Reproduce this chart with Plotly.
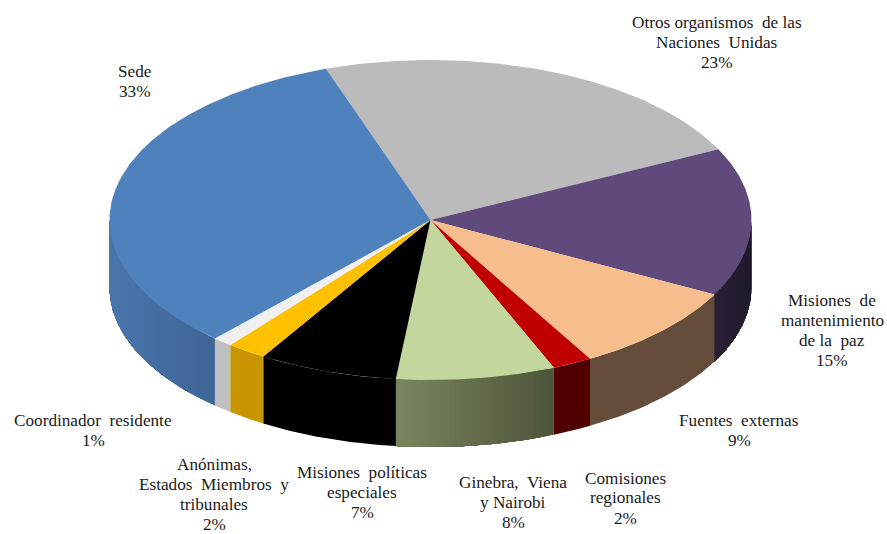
import numpy as np
import plotly.graph_objects as go

# Share of staff by location, clockwise from the first slice
categories = [
    "Otros organismos\u00a0 de las<br>Naciones\u00a0 Unidas",
    "Misiones\u00a0 de<br>mantenimiento<br>de la\u00a0 paz",
    "Fuentes\u00a0 externas",
    "Comisiones<br>regionales",
    "Ginebra,\u00a0 Viena<br>y Nairobi",
    "Misiones\u00a0 políticas<br>especiales",
    "Anónimas,<br>Estados\u00a0 Miembros\u00a0 y<br>tribunales",
    "Coordinador\u00a0 residente",
    "Sede",
]
shares = [23, 15, 9, 2, 8, 7, 2, 1, 33]

top_colors = ["#BBBBBB", "#604A7B", "#F6BD8D", "#C00000", "#C3D69B",
              "#000000", "#FFC000", "#F0F0F0", "#4F81BD"]
# Wall shading of each slice: colour at its left and right end
wall_colors = [
    ("#8C8C8C", "#8C8C8C"), ("#2A2036", "#211A2C"), ("#654D3B", "#654D3B"),
    ("#500000", "#500000"), ("#7A8560", "#4C5539"), ("#000000", "#000000"),
    ("#C89600", "#C89600"), ("#BFBFBF", "#BFBFBF"), ("#4A76AC", "#3E6596"),
]

# Pie geometry: one axis unit equals the horizontal radius
WIDTH, HEIGHT = 887, 534
CENTER_X, CENTER_Y, RADIUS_PX = 430.5, 220, 321
TILT = 160 / 321
DEPTH = 67 / 321
START_ANGLE = -19.0
LABEL_SIZE = 17.2
LINE_PITCH = 20

# Label block centres, in page pixels
label_pos = [(717, 42.5), (832, 330), (739, 430), (625, 498), (513, 502),
             (362, 492), (214, 494), (93, 430), (135, 81.5)]


def rgb(hex_color):
    return np.array([int(hex_color[i:i + 2], 16) for i in (1, 3, 5)], float)


def mix(a, b, t):
    c = rgb(a) * (1 - t) + rgb(b) * t
    return "rgb({:.0f},{:.0f},{:.0f})".format(*c)


def rim(theta_deg, drop=0.0):
    t = np.radians(theta_deg)
    return np.sin(t), np.cos(t) * TILT - drop


fig = go.Figure()


def polygon(x, y, color):
    fig.add_trace(go.Scatter(
        x=x, y=y, mode="lines", fill="toself", fillcolor=color,
        line=dict(width=0), hoverinfo="skip", showlegend=False,
    ))


edges = START_ANGLE + np.concatenate([[0], np.cumsum(shares)]) * 3.6

# Side walls: only the front half of the rim is visible. Shaded walls are
# painted as shrinking bands, so that no seams appear between the steps.
for i, (a, b) in enumerate(zip(edges[:-1], edges[1:])):
    lo, hi = max(a, 90), min(b, 270)
    if hi <= lo:
        continue
    left, right = wall_colors[i]
    steps = 1 if left == right else 30
    x_lo, x_hi = rim(lo)[0], rim(hi)[0]
    for s in range(steps):
        t0 = lo + (hi - lo) * s / steps
        th = np.linspace(t0, hi, 60)
        xt, yt = rim(th)
        xb, yb = rim(th[::-1], DEPTH)
        frac = (rim(t0 + (hi - lo) / steps / 2)[0] - x_hi) / (x_lo - x_hi)
        polygon(np.r_[xt, xb, xt[0]], np.r_[yt, yb, yt[0]], mix(left, right, frac))

# Top face
for i, (a, b) in enumerate(zip(edges[:-1], edges[1:])):
    th = np.linspace(a, b, max(int(b - a) * 2, 8))
    xt, yt = rim(th)
    polygon(np.r_[0, xt, 0], np.r_[0, yt, 0], top_colors[i])

# Slice labels, one annotation per line to hold the line spacing
for name, share, (px, py) in zip(categories, shares, label_pos):
    lines = name.split("<br>") + [f"{share}%"]
    for k, line in enumerate(lines):
        line_y = py + (k - (len(lines) - 1) / 2) * LINE_PITCH
        fig.add_annotation(
            x=px / WIDTH, y=1 - line_y / HEIGHT, xref="paper", yref="paper",
            text=line, showarrow=False, align="center",
            xanchor="center", yanchor="middle",
            font=dict(family="Liberation Serif", size=LABEL_SIZE, color="#1a1a1a"),
        )

fig.update_layout(
    width=WIDTH, height=HEIGHT, margin=dict(l=0, r=0, t=0, b=0),
    paper_bgcolor="white", plot_bgcolor="white", showlegend=False,
    xaxis=dict(range=[-CENTER_X / RADIUS_PX, (WIDTH - CENTER_X) / RADIUS_PX],
               visible=False, fixedrange=True),
    yaxis=dict(range=[(CENTER_Y - HEIGHT) / RADIUS_PX, CENTER_Y / RADIUS_PX],
               visible=False, fixedrange=True),
)

fig.write_html("out.html", config=dict(displayModeBar=False))
